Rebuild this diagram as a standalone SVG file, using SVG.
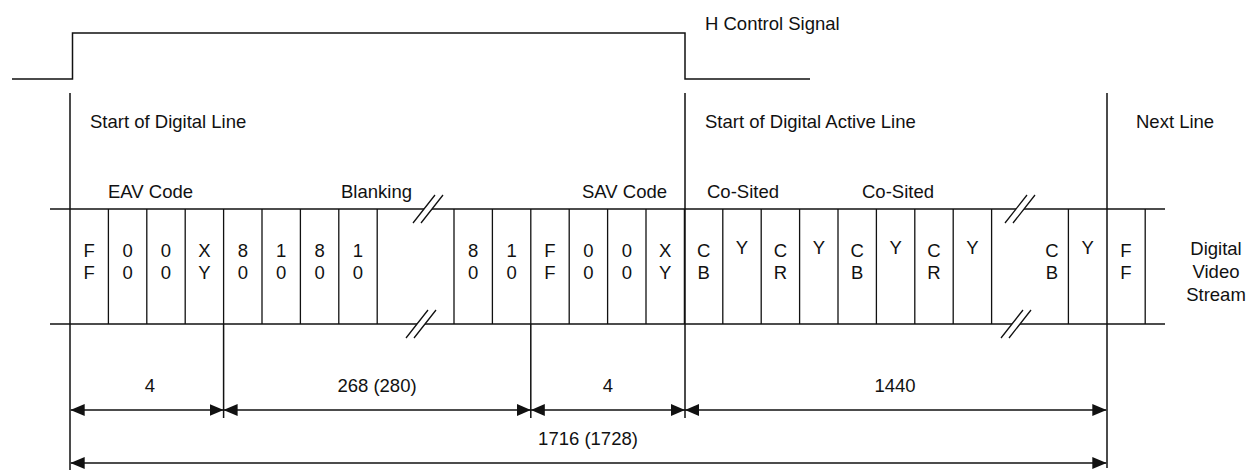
<svg xmlns="http://www.w3.org/2000/svg" width="1251" height="471" viewBox="0 0 1251 471">
<style>
text{font-family:"Liberation Sans",Arial,sans-serif;font-size:18.5px;fill:#111}
.c{text-anchor:middle}
.ln{stroke:#111;stroke-width:1.5;fill:none}
.th{stroke:#111;stroke-width:1.3;fill:none}
.dim{stroke:#111;stroke-width:1.4;fill:none;marker-start:url(#ah);marker-end:url(#ah)}
.brk{fill:#fff;stroke:none}
</style>
<defs>
<marker id="ah" viewBox="0 0 14 12" refX="14" refY="6" markerWidth="14" markerHeight="12" markerUnits="userSpaceOnUse" orient="auto-start-reverse">
<path d="M0,0 L14,6 L0,12 z" fill="#111"/>
</marker>
</defs>
<rect width="1251" height="471" fill="#fff"/>

<g id="h-control-signal">
<polyline class="ln" points="12,79 72.5,79 72.5,33 685,33 685,79 810,79"/>
<text x="705" y="30">H Control Signal</text>
</g>

<g id="titles">
<text x="90" y="128">Start of Digital Line</text>
<text x="705" y="128">Start of Digital Active Line</text>
<text x="1136" y="128">Next Line</text>
</g>

<g id="group-labels">
<text x="108" y="198">EAV Code</text>
<text x="341" y="198">Blanking</text>
<text x="582" y="198">SAV Code</text>
<text x="707" y="198">Co-Sited</text>
<text x="862" y="198">Co-Sited</text>
</g>

<g id="stream">
<line class="th" x1="50" y1="209" x2="1165" y2="209"/>
<line class="th" x1="50" y1="324" x2="1165" y2="324"/>
<g id="cell-bounds" class="th">
<path class="th" d="M108.4,209V324M146.8,209V324M185.2,209V324M223.6,209V324M262,209V324M300.4,209V324M338.8,209V324M377.2,209V324M454,209V324M492.4,209V324M530.8,209V324M569.2,209V324M607.6,209V324M646,209V324M684.4,209V324M722.8,209V324M761.2,209V324M799.6,209V324M838,209V324M876.4,209V324M914.8,209V324M953.2,209V324M991.6,209V324M1068.4,209V324M1145.2,209V324"/>
</g>
<g id="breaks">
<polygon class="brk" points="413,223 435,195 443,195 421,223"/>
<path class="th" d="M413,223L435,195M421,223L443,195"/>
<polygon class="brk" points="406,338 428,310 436,310 414,338"/>
<path class="th" d="M406,338L428,310M414,338L436,310"/>
<polygon class="brk" points="1005,223 1027,195 1035,195 1013,223"/>
<path class="th" d="M1005,223L1027,195M1013,223L1035,195"/>
<polygon class="brk" points="1001,338 1023,310 1031,310 1009,338"/>
<path class="th" d="M1001,338L1023,310M1009,338L1031,310"/>
</g>
<g id="cell-text" class="c">
<text class="c" x="89.2" y="257">F</text><text class="c" x="89.2" y="279">F</text>
<text class="c" x="127.6" y="257">0</text><text class="c" x="127.6" y="279">0</text>
<text class="c" x="166" y="257">0</text><text class="c" x="166" y="279">0</text>
<text class="c" x="204.4" y="257">X</text><text class="c" x="204.4" y="279">Y</text>
<text class="c" x="242.8" y="257">8</text><text class="c" x="242.8" y="279">0</text>
<text class="c" x="281.2" y="257">1</text><text class="c" x="281.2" y="279">0</text>
<text class="c" x="319.6" y="257">8</text><text class="c" x="319.6" y="279">0</text>
<text class="c" x="358" y="257">1</text><text class="c" x="358" y="279">0</text>
<text class="c" x="473.2" y="257">8</text><text class="c" x="473.2" y="279">0</text>
<text class="c" x="511.6" y="257">1</text><text class="c" x="511.6" y="279">0</text>
<text class="c" x="550" y="257">F</text><text class="c" x="550" y="279">F</text>
<text class="c" x="588.4" y="257">0</text><text class="c" x="588.4" y="279">0</text>
<text class="c" x="626.8" y="257">0</text><text class="c" x="626.8" y="279">0</text>
<text class="c" x="665.2" y="257">X</text><text class="c" x="665.2" y="279">Y</text>
<text class="c" x="703.6" y="257">C</text><text class="c" x="703.6" y="279">B</text>
<text class="c" x="742" y="254">Y</text>
<text class="c" x="780.4" y="257">C</text><text class="c" x="780.4" y="279">R</text>
<text class="c" x="818.8" y="254">Y</text>
<text class="c" x="857.2" y="257">C</text><text class="c" x="857.2" y="279">B</text>
<text class="c" x="895.6" y="254">Y</text>
<text class="c" x="934" y="257">C</text><text class="c" x="934" y="279">R</text>
<text class="c" x="972.4" y="254">Y</text>
<text class="c" x="1052" y="257">C</text><text class="c" x="1052" y="279">B</text>
<text class="c" x="1087.6" y="254">Y</text>
<text class="c" x="1126" y="257">F</text><text class="c" x="1126" y="279">F</text>
</g>
</g>

<g id="stream-label">
<text class="c" x="1216" y="255">Digital</text>
<text class="c" x="1216" y="278">Video</text>
<text class="c" x="1216" y="301">Stream</text>
</g>

<g id="connectors">
<path class="ln" d="M70,93V470M685,93V418M1107,93V468M223.6,324V418M530.8,324V418"/>
<line class="dim" x1="70.7" y1="410" x2="223.6" y2="410"/>
<line class="dim" x1="223.6" y1="410" x2="530.8" y2="410"/>
<line class="dim" x1="530.8" y1="410" x2="685" y2="410"/>
<line class="dim" x1="685" y1="410" x2="1106.3" y2="410"/>
<line class="dim" x1="70.7" y1="463" x2="1106.3" y2="463"/>
</g>

<g id="dimension-labels">
<text class="c" x="150" y="392">4</text>
<text class="c" x="377" y="392">268 (280)</text>
<text class="c" x="608" y="392">4</text>
<text class="c" x="895" y="392">1440</text>
<text class="c" x="588" y="445">1716 (1728)</text>
</g>
</svg>
